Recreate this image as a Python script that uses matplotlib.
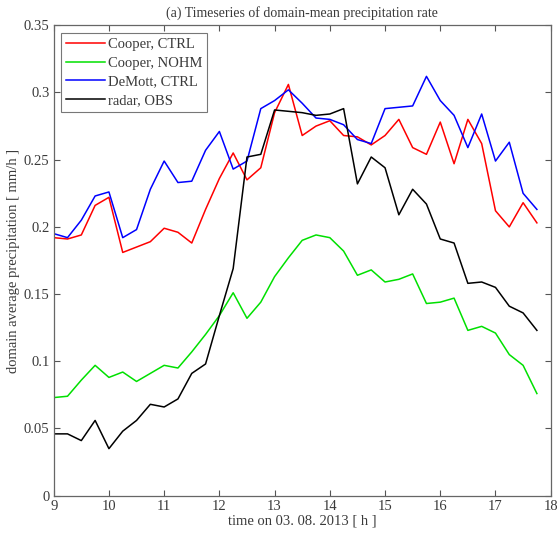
import numpy as np
import matplotlib
matplotlib.use("Agg")
import matplotlib.pyplot as plt

time_h = [9.0 + 0.25 * i for i in range(36)]

cooper_ctrl = [0.192, 0.191, 0.194, 0.216, 0.222, 0.181, 0.185, 0.189, 0.199, 0.196,
               0.188, 0.213, 0.236, 0.255, 0.235, 0.244, 0.285, 0.306, 0.268, 0.275,
               0.279, 0.268, 0.267, 0.261, 0.268, 0.280, 0.259, 0.254, 0.278, 0.247,
               0.280, 0.262, 0.212, 0.200, 0.218, 0.203]
cooper_nohm = [0.073, 0.074, 0.086, 0.097, 0.088, 0.092, 0.085, 0.091, 0.097, 0.095,
               0.107, 0.120, 0.134, 0.151, 0.132, 0.144, 0.163, 0.177, 0.190, 0.194,
               0.192, 0.182, 0.164, 0.168, 0.159, 0.161, 0.165, 0.143, 0.144, 0.147,
               0.123, 0.126, 0.121, 0.105, 0.097, 0.076]
demott_ctrl = [0.195, 0.192, 0.205, 0.223, 0.226, 0.192, 0.198, 0.228, 0.249, 0.233,
               0.234, 0.257, 0.271, 0.243, 0.249, 0.288, 0.294, 0.302, 0.292, 0.281,
               0.280, 0.276, 0.265, 0.262, 0.288, 0.289, 0.290, 0.312, 0.294, 0.283,
               0.259, 0.284, 0.249, 0.263, 0.225, 0.213]
radar_obs = [0.046, 0.046, 0.041, 0.056, 0.035, 0.048, 0.056, 0.068, 0.066, 0.072,
             0.091, 0.098, 0.134, 0.169, 0.252, 0.254, 0.287, 0.286, 0.285, 0.283,
             0.284, 0.288, 0.232, 0.252, 0.244, 0.209, 0.228, 0.217, 0.191, 0.188,
             0.158, 0.159, 0.155, 0.141, 0.136, 0.123]

series_labels = ["Cooper, CTRL", "Cooper, NOHM", "DeMott, CTRL", "radar, OBS"]
series_colors = ["#ff0000", "#00e000", "#0000ff", "#000000"]
xticks = list(range(9, 19))
yticks = [0, 0.05, 0.1, 0.15, 0.2, 0.25, 0.3, 0.35]
ytick_labels = ["0", "0.05", "0.1", "0.15", "0.2", "0.25", "0.3", "0.35"]

plt.rcParams['font.family'] = ['Liberation Serif', 'DejaVu Serif']
txt_color = '#3a3a3a'

fig = plt.figure(figsize=(5.6, 5.36), dpi=100)
ax = fig.add_axes([0.0959, 0.0752, 0.8875, 0.8776])

for vals, lab, col in zip([cooper_ctrl, cooper_nohm, demott_ctrl, radar_obs],
                          series_labels, series_colors):
    ax.plot(time_h, vals, color=col, lw=1.1, label=lab)

ax.set_xlim(9, 18)
ax.set_ylim(0, 0.35)
ax.set_xticks(xticks)
ax.set_xticklabels([str(t) for t in xticks])
ax.set_yticks(yticks)
ax.set_yticklabels(ytick_labels)
ax.tick_params(direction='in', top=True, right=True, length=4, width=0.8,
               colors='#555555', labelcolor=txt_color, labelsize=10.5, pad=3)
for s in ax.spines.values():
    s.set_color('#666666')
    s.set_linewidth(0.9)

ax.set_title("(a) Timeseries of domain-mean precipitation rate", fontsize=10,
             color=txt_color, pad=6)
ax.set_xlabel("time on 03. 08. 2013 [ h ]", fontsize=10.5, color=txt_color, labelpad=1)
ax.set_ylabel("domain average precipitation [ mm/h ]", fontsize=10.5, color=txt_color,
              labelpad=3)

leg = ax.legend(loc='upper left', fontsize=10.5, frameon=True, fancybox=False,
                edgecolor='#555555', handlelength=2.7, handletextpad=0.15,
                borderaxespad=0.5, labelspacing=0.38, borderpad=0.35)
leg.get_frame().set_linewidth(0.8)
for t in leg.get_texts():
    t.set_color(txt_color)

fig.savefig("out.png", dpi=100)
